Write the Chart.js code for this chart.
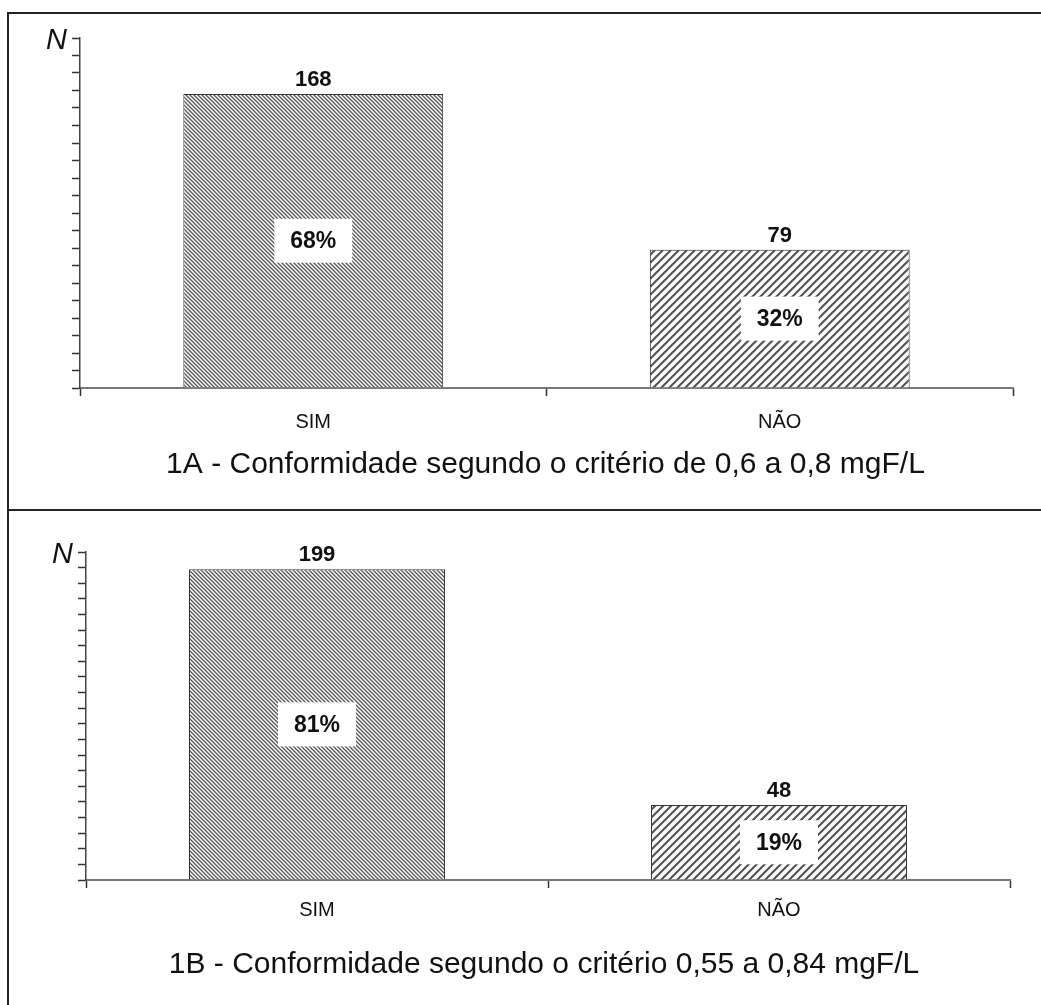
<!DOCTYPE html>
<html>
<head>
<meta charset="utf-8">
<script src="https://cdn.jsdelivr.net/npm/chart.js@4.4.1/dist/chart.umd.min.js"></script>
<style>
  body { margin: 0; background: #fff; width: 1041px; height: 1005px; overflow: hidden; position: relative; }
  .frame { position: absolute; left: 7px; top: 12px; width: 1100px; height: 1100px; border-left: 2px solid #222; border-top: 2px solid #222; }
  .divider { position: absolute; left: 7px; top: 509px; width: 1100px; height: 2px; background: #222; }
  canvas { position: absolute; }
</style>
</head>
<body>
<div class="frame"></div>
<div class="divider"></div>
<canvas id="chartA" width="1031" height="480" style="left:10px;top:15px"></canvas>
<canvas id="chartB" width="1031" height="485" style="left:10px;top:515px"></canvas>
<script>
// dados
const categories = ['SIM', 'NÃO'];
const countsA = [168, 79];
const percentA = [68, 32];
const countsB = [199, 48];
const percentB = [81, 19];
const yMaxA = 200;
const yMaxB = 210;
const yStep = 10;
const titleA = '1A - Conformidade segundo o critério de 0,6 a 0,8 mgF/L';
const titleB = '1B - Conformidade segundo o critério 0,55 a 0,84 mgF/L';

const FONT = "'Liberation Sans', Arial, sans-serif";

// padrão de hachura
function hatch(size, width, color, dir) {
    const c = document.createElement('canvas');
    c.width = size; c.height = size;
    const g = c.getContext('2d');
    g.fillStyle = '#fff';
    g.fillRect(0, 0, size, size);
    g.strokeStyle = color;
    g.lineWidth = width;
    g.beginPath();
    if (dir === '/') {
        g.moveTo(0, size); g.lineTo(size, 0);
        g.moveTo(-1, 1); g.lineTo(1, -1);
        g.moveTo(size - 1, size + 1); g.lineTo(size + 1, size - 1);
    } else {
        g.moveTo(0, 0); g.lineTo(size, size);
        g.moveTo(size - 1, -1); g.lineTo(size + 1, 1);
        g.moveTo(-1, size - 1); g.lineTo(1, size + 1);
    }
    g.stroke();
    return g.createPattern(c, 'repeat');
}

// rótulos: N, valores acima das barras e percentuais
const labelsPlugin = {
    id: 'barLabels',
    afterDatasetsDraw(chart, args, opts) {
        const ctx = chart.ctx;
        const area = chart.chartArea;
        const meta = chart.getDatasetMeta(0);
        ctx.save();
        ctx.fillStyle = '#111';
        ctx.font = 'italic 29px ' + FONT;
        ctx.textAlign = 'right';
        ctx.textBaseline = 'middle';
        ctx.fillText('N', area.left - 13, area.top + 3);

        ctx.textAlign = 'center';
        meta.data.forEach((bar, i) => {
            ctx.font = 'bold 22px ' + FONT;
            ctx.textBaseline = 'alphabetic';
            ctx.fillStyle = '#111';
            ctx.fillText(String(opts.counts[i]), bar.x, bar.y - 8);

            const midY = (bar.y + bar.base) / 2;
            ctx.fillStyle = '#fff';
            ctx.fillRect(bar.x - 39, midY - 22, 78, 44);
            ctx.fillStyle = '#111';
            ctx.font = 'bold 23px ' + FONT;
            ctx.textBaseline = 'middle';
            ctx.fillText(opts.percents[i] + '%', bar.x, midY + 1);
        });
        ctx.restore();
    }
};

function makeChart(id, counts, percents, yMax, title, lay) {
    const ctx = document.getElementById(id).getContext('2d');
    return new Chart(ctx, {
        type: 'bar',
        data: {
            labels: categories,
            datasets: [{
                data: counts,
                backgroundColor: [hatch(4, 1.3, '#555', '\\'), hatch(8, 2.2, '#555', '/')],
                borderColor: '#333',
                borderWidth: 1,
                categoryPercentage: 1,
                barPercentage: lay.barPct
            }]
        },
        options: {
            responsive: false,
            animation: false,
            devicePixelRatio: 1,
            layout: { padding: lay.padding },
            plugins: {
                legend: { display: false },
                tooltip: { enabled: false },
                title: {
                    display: true,
                    text: title,
                    position: 'bottom',
                    color: '#111',
                    font: { family: FONT, size: 30, weight: 'normal' },
                    padding: lay.titlePad
                },
                barLabels: { counts: counts, percents: percents }
            },
            scales: {
                x: {
                    grid: { offset: true, drawOnChartArea: false, drawTicks: true, tickLength: 8, tickColor: '#333', tickWidth: 1.5 },
                    border: { display: true, color: '#777', width: 2 },
                    ticks: { color: '#111', font: { family: FONT, size: 20 }, padding: lay.tickPad },
                    afterFit: s => { s.height = lay.xHeight; }
                },
                y: {
                    min: 0,
                    max: yMax,
                    ticks: { stepSize: yStep, display: false },
                    grid: { drawOnChartArea: false, drawTicks: true, tickLength: 8, tickColor: '#333', tickWidth: 1.5 },
                    border: { display: true, color: '#444', width: 1.5 },
                    afterFit: s => { s.width = lay.yWidth; }
                }
            }
        },
        plugins: [labelsPlugin]
    });
}

makeChart('chartA', countsA, percentA, yMaxA, titleA, {
    barPct: 0.557,
    padding: { left: 68, right: 28, top: 23, bottom: 0 },
    yWidth: 2,
    titlePad: { top: 6, bottom: 12 },
    xHeight: 53,
    tickPad: 14
});

makeChart('chartB', countsB, percentB, yMaxB, titleB, {
    barPct: 0.554,
    padding: { left: 68, right: 31, top: 37, bottom: 0 },
    yWidth: 8,
    titlePad: { top: 6, bottom: 17 },
    xHeight: 61,
    tickPad: 10
});
</script>
</body>
</html>
